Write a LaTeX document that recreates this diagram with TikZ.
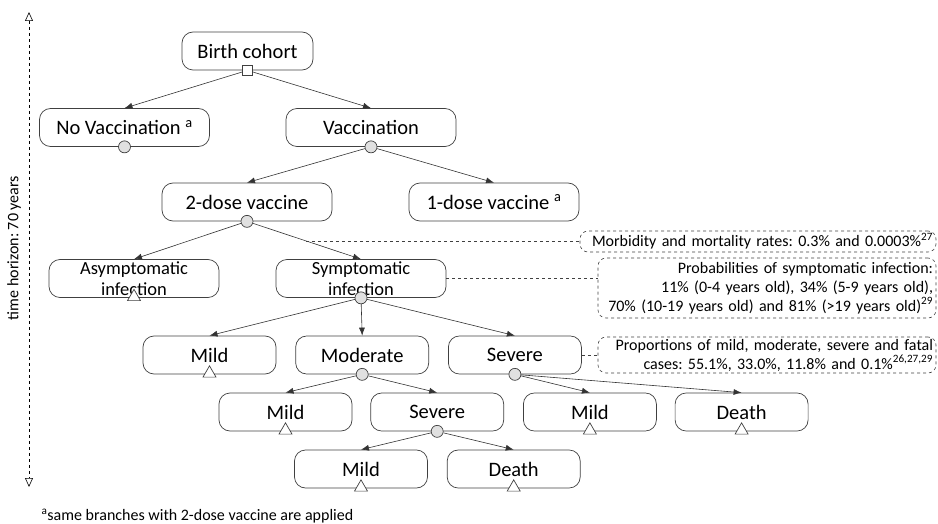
\documentclass[tikz,border=0pt]{standalone}
\usepackage{fontspec}
\setmainfont{Carlito}
\usetikzlibrary{positioning,shapes.geometric,arrows.meta}
\frenchspacing

\begin{document}
\begin{tikzpicture}[
  x=1pt,y=-1pt,
  state/.style={draw=black!75,line width=0.7pt,rounded corners=11pt,minimum height=38pt,font=\fontsize{20.5}{23}\selectfont},
  wide/.style={state,minimum width=170pt},
  narrow/.style={state,minimum width=133pt},
  twoline/.style={wide,align=center,inner sep=0pt,font=\fontsize{18.5}{21}\selectfont},
  note/.style={draw=black!75,dashed,line width=0.6pt,rounded corners=8pt,align=right,inner xsep=3pt,inner ysep=0pt,font=\fontsize{16}{19}\selectfont},
  choice/.style={draw=black!75,fill=white,line width=0.7pt,minimum size=10pt,inner sep=0pt},
  chance/.style={circle,draw=black!75,fill=black!12,line width=0.7pt,minimum size=12pt,inner sep=0pt},
  leaf/.style={regular polygon,regular polygon sides=3,draw=black!75,fill=white,line width=0.7pt,minimum size=15pt,inner sep=0pt},
  arr/.style={draw=black!80,line width=0.6pt,-{Latex[length=8pt,width=6pt]}},
  link/.style={draw=black!75,dashed,line width=0.6pt}
]
\useasboundingbox (0,0) rectangle (938,524);

% time axis
\coordinate (ttop) at (29,12);
\coordinate (tbot) at (29,487);
\draw[dashed,line width=0.6pt,{Triangle[open,length=9pt,width=8pt]}-{Triangle[open,length=9pt,width=8pt]}] (ttop) -- (tbot);
\node[rotate=90,font=\fontsize{16}{18}\selectfont] (horizon) at (14,248) {time horizon: 70 years};

% tree
\node[state,minimum width=131pt] (birth) at (247.5,51) {Birth cohort};
\node[wide] (novac) at (124.5,127.5) {No Vaccination \textsuperscript{a}};
\node[wide] (vac) at (371,127.5) {Vaccination};
\node[wide] (dose2) at (247,202) {2-dose vaccine};
\node[wide] (dose1) at (494,202) {1-dose vaccine \textsuperscript{a}};
\node[twoline] (asym) at (134,278.5) {Asymptomatic\\infection};
\node[twoline] (sym) at (361,278.5) {Symptomatic\\infection};
\node[narrow] (mildA) at (209.5,355) {Mild};
\node[narrow,right=19pt of mildA] (mod) {Moderate};
\node[narrow,right=19pt of mod] (sevA) {Severe};
\node[narrow] (mildB) at (285.5,412) {Mild};
\node[narrow,right=18pt of mildB] (sevB) {Severe};
\node[narrow,right=19pt of sevB] (mildC) {Mild};
\node[narrow,right=18pt of mildC] (deathA) {Death};
\node[narrow] (mildD) at (361,469) {Mild};
\node[narrow,right=19pt of mildD] (deathB) {Death};

% markers
\node[choice] (d0) at (birth.south) {};
\node[chance] (cnv) at (novac.south) {};
\node[chance] (cv) at (vac.south) {};
\node[chance] (c2) at (dose2.south) {};
\node[chance] (cs) at (sym.south) {};
\node[chance] (cm) at (mod.south) {};
\node[chance] (cse) at (sevA.south) {};
\node[chance] (csb) at (sevB.south) {};
\foreach \n in {asym,mildA,mildB,mildC,deathA,mildD,deathB}
  \node[leaf] (t-\n) at ([yshift=1pt]\n.south) {};

% branches
\draw[arr] (d0) -- (novac.north);
\draw[arr] (d0) -- (vac.north);
\draw[arr] (cv) -- (dose2.north);
\draw[arr] (cv) -- (dose1.north);
\draw[arr] (c2) -- (asym.north);
\draw[arr] (c2) -- coordinate[pos=0.49] (hit) (sym.north);
\draw[arr] (cs) -- (mildA.north);
\draw[arr] (cs) -- (mod.north);
\draw[arr] (cs) -- (sevA.north);
\draw[arr] (cm) -- (mildB.north);
\draw[arr] (cm) -- (sevB.north);
\draw[arr] (cse) -- (mildC.north);
\draw[arr] (cse) -- (deathA.north);
\draw[arr] (csb) -- (mildD.north);
\draw[arr] (csb) -- (deathB.north);

% notes
\node[note,text width=350pt,minimum height=21pt] (morb) at (758,241.5) {Morbidity and mortality rates: 0.3\% and 0.0003\%\textsuperscript{27}};
\node[note,text width=332pt,minimum height=60pt] (prob) at (767,288) {Probabilities of symptomatic infection:\\11\% (0-4 years old), 34\% (5-9 years old),\\70\% (10-19 years old) and 81\% (>19 years old)\textsuperscript{29}};
\node[note,text width=332pt,minimum height=36pt] (prop) at (767,355) {Proportions of mild, moderate, severe and fatal\\cases: 55.1\%, 33.0\%, 11.8\% and 0.1\%\textsuperscript{26,27,29}};
\draw[link] (hit) -- (hit -| morb.west);
\draw[link] (sym.east) -- (sym.east -| prob.west);
\draw[link] (sevA.east) -- (prop.west);

\node[anchor=west,font=\fontsize{16}{18}\selectfont] (foot) at (38,516) {\textsuperscript{a}same branches with 2-dose vaccine are applied};
\end{tikzpicture}
\end{document}
